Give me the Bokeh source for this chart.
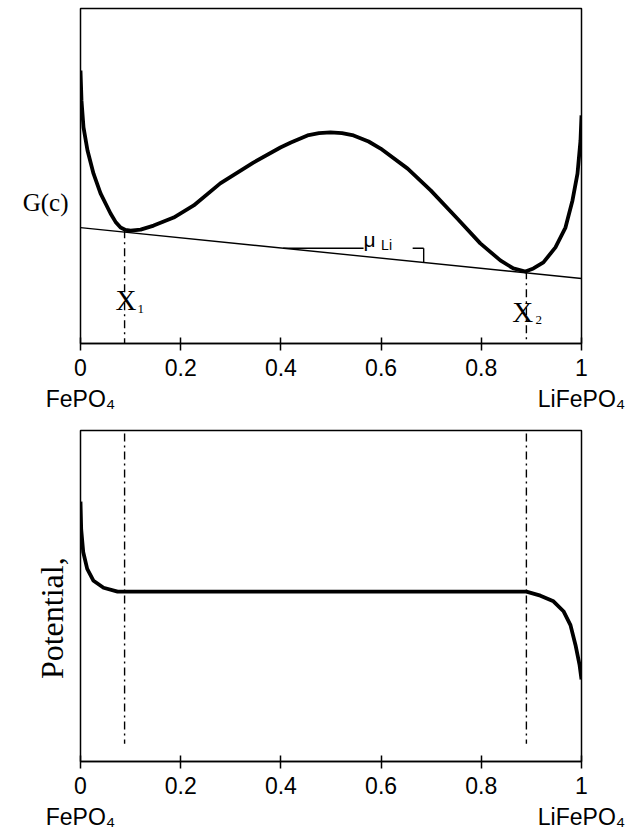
from bokeh.plotting import figure
from bokeh.layouts import column
from bokeh.models import Range1d, FixedTicker
from bokeh.core.properties import value
from bokeh.embed import file_html
from bokeh.resources import INLINE

# ---------------- data ----------------
comp_ticks = [0.0, 0.2, 0.4, 0.6, 0.8, 1.0]
comp_tick_labels = ["0\nFePO\u2084", "0.2", "0.4", "0.6", "0.8", "1\nLiFePO\u2084"]

# free energy curve G(c)
g_c = [0.000, 0.002, 0.006, 0.014, 0.026, 0.040, 0.060, 0.070, 0.080, 0.090,
       0.100, 0.120, 0.146, 0.186, 0.226, 0.279, 0.345, 0.399, 0.420, 0.453,
       0.476, 0.499, 0.522, 0.545, 0.575, 0.599, 0.653, 0.699, 0.752, 0.798,
       0.838, 0.864, 0.888, 0.904, 0.924, 0.948, 0.968, 0.982, 0.992, 0.998,
       1.000]
g_val = [8.15, 7.25, 6.45, 5.76, 5.07, 4.48, 3.88, 3.63, 3.46, 3.39,
         3.37, 3.40, 3.52, 3.76, 4.12, 4.78, 5.40, 5.85, 6.00, 6.21,
         6.28, 6.30, 6.28, 6.21, 6.03, 5.82, 5.22, 4.57, 3.73, 2.99,
         2.48, 2.24, 2.15, 2.24, 2.42, 2.87, 3.46, 4.27, 5.07, 6.06,
         6.81]

# common tangent
tangent_c = [0.0, 1.0]
tangent_g = [3.46, 1.94]

# potential curve
pot_c = [0.000, 0.0014, 0.0054, 0.0134, 0.026, 0.046, 0.074, 0.890,
         0.918, 0.944, 0.964, 0.978, 0.988, 0.996, 1.000]
pot_val = [7.85, 7.01, 6.33, 5.82, 5.46, 5.25, 5.13, 5.13,
           5.01, 4.84, 4.54, 4.12, 3.52, 2.93, 2.48]

# miscibility-gap compositions X1, X2
x_gap = [0.088, 0.890]
x_gap_names = ["X", "X"]
x_gap_subs = ["1", "2"]
g_at_gap = [3.38, 2.16]
pot_dash_bottom = 0.54

# chemical potential step on the tangent
mu_level = 2.845
mu_end = 0.685

G_LABEL_POS = 4.20
POT_LABEL_POS = 4.33

SANS = "Liberation Sans"
SERIF = "Liberation Serif"
DASH = "8 4 2 4"


def make_fig(h, top, bottom):
    p = figure(width=642, height=h, x_range=Range1d(0, 1), y_range=Range1d(0, 10),
               title=None, min_border_left=80, min_border_right=61,
               min_border_top=top, min_border_bottom=bottom,
               output_backend="svg", toolbar_location=None)
    p.grid.visible = False
    p.outline_line_color = "black"
    p.outline_line_width = 1.5
    p.outline_line_alpha = 1.0
    p.background_fill_color = "white"
    p.border_fill_color = "white"
    xa = p.xaxis[0]
    xa.ticker = FixedTicker(ticks=comp_ticks)
    xa.major_label_overrides = {t: s for t, s in zip(comp_ticks, comp_tick_labels)}
    xa.major_tick_in = 6
    xa.major_tick_out = 7
    xa.major_tick_line_width = 1.5
    xa.minor_tick_line_color = None
    xa.axis_line_width = 1.5
    xa.major_label_standoff = 4
    xa.major_label_text_font = SANS
    xa.major_label_text_font_size = "23px"
    xa.major_label_text_color = "black"
    ya = p.yaxis[0]
    ya.axis_line_color = None
    ya.major_tick_line_color = None
    ya.minor_tick_line_color = None
    ya.major_tick_in = 0
    ya.major_tick_out = 0
    ya.major_label_text_font = SERIF
    ya.major_label_text_color = "black"
    return p


# ---------------- top: free energy ----------------
p1 = make_fig(420, 8, 77)
ya = p1.yaxis[0]
ya.ticker = FixedTicker(ticks=[G_LABEL_POS])
ya.major_label_overrides = {G_LABEL_POS: "G(c)"}
ya.major_label_standoff = 12
ya.major_label_text_font_size = "25px"

p1.line(tangent_c, tangent_g, line_color="black", line_width=1.4)
slope = tangent_g[1] - tangent_g[0]
mu_start = (mu_level - tangent_g[0]) / slope
mu_text_left = 0.565
mu_text_right = 0.663
p1.segment(x0=[mu_start, mu_text_right, mu_end], y0=[mu_level, mu_level, mu_level],
           x1=[mu_text_left, mu_end, mu_end],
           y1=[mu_level, mu_level, tangent_g[0] + slope * mu_end],
           line_color="black", line_width=1.4)
p1.text(x=[mu_text_left], y=[3.10], text=["\u03bc"], text_font=value(SANS),
        text_font_size=value("21px"), text_baseline="alphabetic", text_align="left",
        text_color="black")
p1.text(x=[0.600], y=[2.93], text=["Li"], text_font=value(SANS),
        text_font_size=value("14px"), text_baseline="alphabetic", text_align="left",
        text_color="black")

for xg, gg in zip(x_gap, g_at_gap):
    p1.line([xg, xg], [gg, -1], line_color="black", line_width=1.4, line_dash=DASH)

p1.line(g_c, g_val, line_color="black", line_width=3.8, line_join="round")

p1.text(x=[0.070, 0.862], y=[1.30, 0.93], text=x_gap_names, text_font=value(SERIF),
        text_font_size=value("29px"), text_baseline="alphabetic", text_align="left",
        text_color="black")
p1.text(x=[0.114, 0.908], y=[1.02, 0.70], text=x_gap_subs, text_font=value(SERIF),
        text_font_size=value("13px"), text_baseline="alphabetic", text_align="left",
        text_color="black")

# ---------------- bottom: potential ----------------
p2 = make_fig(412, 10, 67)
ya = p2.yaxis[0]
ya.ticker = FixedTicker(ticks=[POT_LABEL_POS])
ya.major_label_overrides = {POT_LABEL_POS: "Potential,"}
ya.major_label_orientation = "vertical"
ya.major_label_standoff = 10
ya.major_label_text_font_size = "32px"

for xg in x_gap:
    p2.line([xg, xg], [11, pot_dash_bottom], line_color="black", line_width=1.4,
            line_dash=DASH)
p2.line(pot_c, pot_val, line_color="black", line_width=3.8, line_join="round")

layout = column(p1, p2, spacing=0)
open("out.html", "w").write(file_html(layout, INLINE, "G(c) and potential"))
